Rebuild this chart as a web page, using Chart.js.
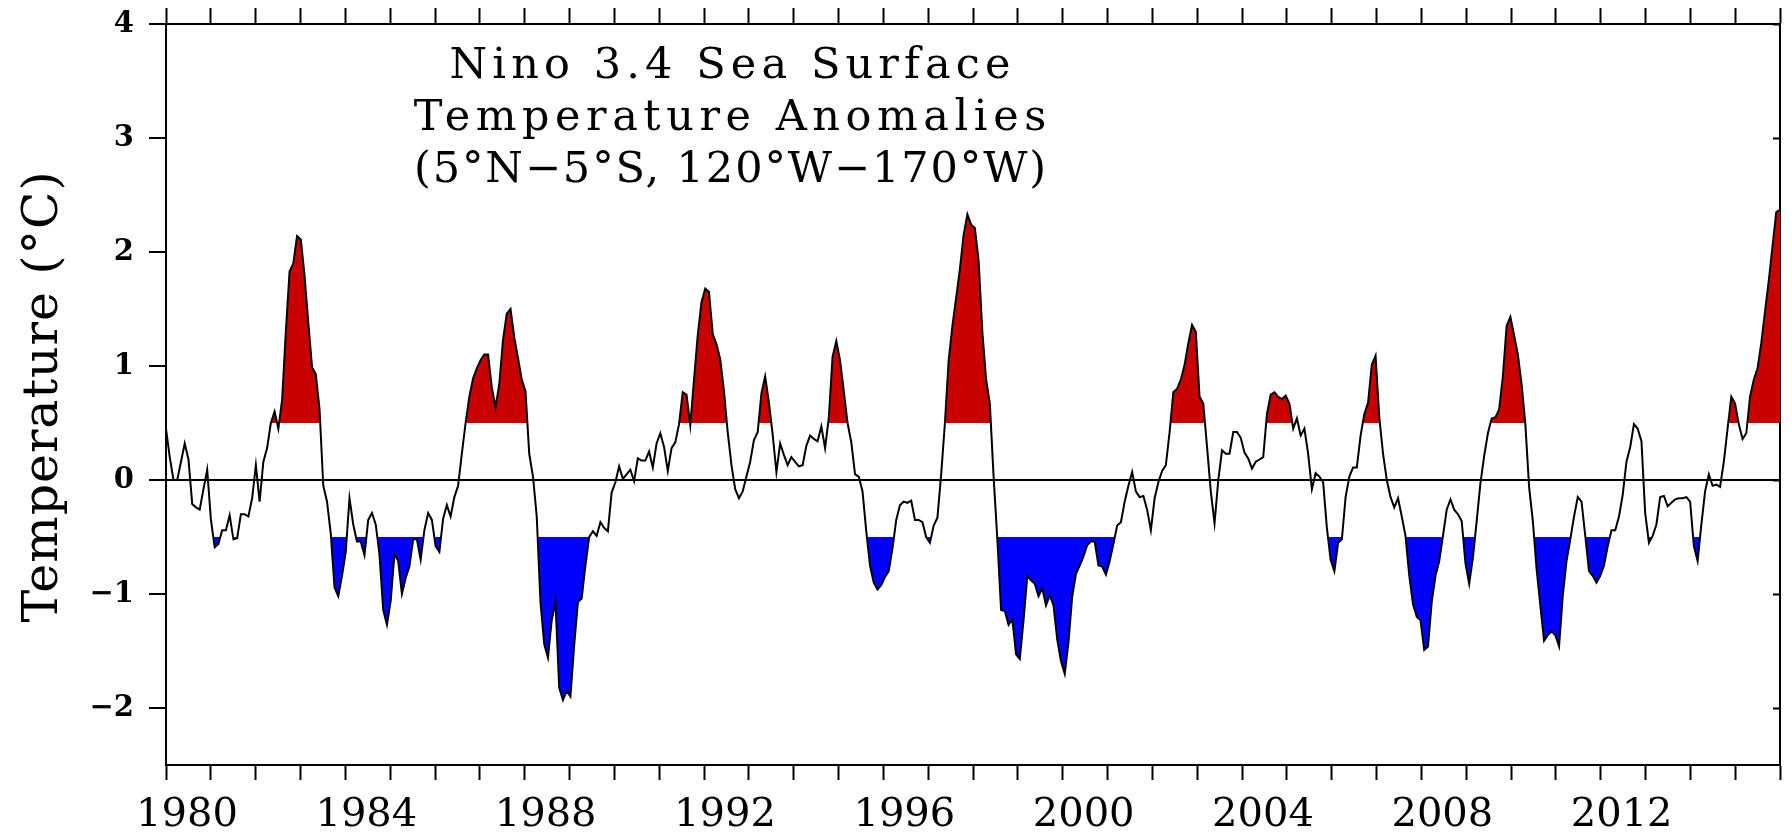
<!DOCTYPE html>
<html>
<head>
<meta charset="utf-8">
<title>Nino 3.4 Sea Surface Temperature Anomalies</title>
<script src="https://cdn.jsdelivr.net/npm/chart.js@4.4.1/dist/chart.umd.min.js"></script>
<style>
  html, body { margin: 0; padding: 0; background: #ffffff; }
  #wrap { width: 1792px; height: 835px; position: relative; }
  canvas { display: block; }
</style>
</head>
<body>
<div id="wrap"><canvas id="chart" width="1792" height="835"></canvas></div>
<script>
// ---------------- data (monthly anomalies, °C) ----------------
const startYear = 1980;
const endYear = 2016;

const anom1980s = [
   0.45,  0.20,  0.00,  0.00,  0.16,  0.32,  0.18, -0.21, -0.24, -0.26, -0.08,  0.09,
  -0.35, -0.59, -0.56, -0.44, -0.44, -0.31, -0.52, -0.51, -0.30, -0.30, -0.32, -0.16,
   0.13, -0.19,  0.16,  0.28,  0.50,  0.60,  0.45,  0.70,  1.30,  1.83,  1.90,  2.14,
   2.11,  1.79,  1.38,  0.99,  0.93,  0.62, -0.05, -0.19, -0.47, -0.94, -1.02, -0.84,
  -0.63, -0.16, -0.39, -0.54, -0.54, -0.66, -0.35, -0.29, -0.39, -0.65, -1.14, -1.27,
  -1.06, -0.65, -0.71, -1.00, -0.86, -0.76, -0.52, -0.52, -0.70, -0.44, -0.29, -0.35,
  -0.58, -0.63, -0.34, -0.22, -0.32, -0.15, -0.05,  0.23,  0.50,  0.73,  0.89,  0.98,
   1.05,  1.10,  1.10,  0.81,  0.64,  0.84,  1.23,  1.46,  1.50,  1.25,  1.07,  0.88,
   0.78,  0.23,  0.03, -0.32, -1.07, -1.44, -1.56, -1.23, -1.07, -1.82, -1.93, -1.85,
  -1.90, -1.45, -1.07, -1.04, -0.75, -0.50, -0.45, -0.49, -0.37, -0.42, -0.45, -0.11
];

const anom1990s = [
  -0.02,  0.12,  0.01,  0.05,  0.09, -0.01,  0.19,  0.17,  0.17,  0.25,  0.11,  0.32,
   0.41,  0.29,  0.08,  0.28,  0.33,  0.49,  0.77,  0.75,  0.48,  0.88,  1.27,  1.56,
   1.68,  1.65,  1.28,  1.19,  1.06,  0.78,  0.42,  0.13, -0.08, -0.16, -0.10,  0.03,
   0.16,  0.35,  0.42,  0.76,  0.91,  0.68,  0.40,  0.07,  0.32,  0.22,  0.13,  0.20,
   0.16,  0.12,  0.13,  0.30,  0.39,  0.36,  0.34,  0.47,  0.28,  0.55,  1.08,  1.22,
   1.05,  0.78,  0.50,  0.33,  0.05,  0.03, -0.10, -0.45, -0.75, -0.90, -0.96, -0.92,
  -0.85, -0.80, -0.60, -0.35, -0.22, -0.19, -0.20, -0.18, -0.35, -0.35, -0.37, -0.50,
  -0.55, -0.40, -0.33,  0.05,  0.50,  1.05,  1.35,  1.60,  1.85,  2.15,  2.33,  2.24,
   2.21,  1.92,  1.30,  0.88,  0.67,  0.03, -0.52, -1.14, -1.15, -1.27, -1.22, -1.53,
  -1.57, -1.23, -0.84, -0.88, -0.91, -1.02, -0.95, -1.10, -1.01, -1.10, -1.40, -1.59
];

const anom2000s = [
  -1.70, -1.42, -1.02, -0.82, -0.75, -0.67, -0.57, -0.54, -0.54, -0.75, -0.76, -0.83,
  -0.71, -0.56, -0.40, -0.37, -0.19, -0.05,  0.07, -0.10, -0.15, -0.14, -0.26, -0.44,
  -0.16, -0.02,  0.08,  0.13,  0.42,  0.77,  0.80,  0.88,  1.01,  1.20,  1.36,  1.30,
   0.73,  0.67,  0.29, -0.10, -0.38,  0.00,  0.26,  0.23,  0.23,  0.42,  0.42,  0.37,
   0.24,  0.19,  0.10,  0.16,  0.18,  0.20,  0.58,  0.75,  0.77,  0.73,  0.71,  0.74,
   0.67,  0.45,  0.54,  0.39,  0.45,  0.23, -0.08,  0.06,  0.03, -0.02, -0.42, -0.70,
  -0.80, -0.55, -0.52, -0.15,  0.03,  0.11,  0.11,  0.39,  0.58,  0.68,  1.01,  1.09,
   0.55,  0.23,  0.00, -0.15, -0.24, -0.16, -0.32, -0.49, -0.84, -1.09, -1.20, -1.23,
  -1.49, -1.46, -1.07, -0.84, -0.71, -0.49, -0.26, -0.17, -0.26, -0.30, -0.36, -0.73,
  -0.91, -0.68, -0.36, -0.03,  0.21,  0.41,  0.54,  0.55,  0.62,  0.91,  1.35,  1.43
];

const anom2010s = [
   1.27,  1.10,  0.84,  0.49, -0.06, -0.36, -0.78, -1.10, -1.41, -1.36, -1.33, -1.36,
  -1.46, -1.01, -0.71, -0.52, -0.32, -0.15, -0.19, -0.49, -0.80, -0.84, -0.90, -0.84,
  -0.75, -0.58, -0.44, -0.44, -0.32, -0.13,  0.16,  0.29,  0.49,  0.45,  0.34, -0.29,
  -0.55, -0.49, -0.39, -0.15, -0.14, -0.23, -0.20, -0.17, -0.16, -0.16, -0.15, -0.19,
  -0.58, -0.71, -0.39, -0.10,  0.05, -0.05, -0.04, -0.06,  0.16,  0.45,  0.73,  0.67,
   0.49,  0.36,  0.41,  0.73,  0.88,  0.98,  1.20,  1.48,  1.75,  2.05,  2.35,  2.37
];

// tick values and labels
const yearTicks = [1980,1981,1982,1983,1984,1985,1986,1987,1988,1989,1990,1991,1992,1993,1994,1995,1996,1997,1998,
                   1999,2000,2001,2002,2003,2004,2005,2006,2007,2008,2009,2010,2011,2012,2013,2014,2015,2016];
const labelledYears = [1980, 1984, 1988, 1992, 1996, 2000, 2004, 2008, 2012];
const tempTicks = [-2, -1, 0, 1, 2, 3, 4];
const tempMin = -2.5, tempMax = 4;
const warmThreshold = 0.5;
const coolThreshold = -0.5;

const titleLines = ['Nino 3.4 Sea Surface', 'Temperature Anomalies', '(5\u00B0N\u22125\u00B0S, 120\u00B0W\u2212170\u00B0W)'];
const yAxisTitle = 'Temperature (\u00B0C)';

// ---------------- build ----------------
const anomalies = [].concat(anom1980s, anom1990s, anom2000s, anom2010s);
const months = anomalies.map((_, i) => (startYear + Math.floor(i / 12)) + '-' + String(i % 12 + 1).padStart(2, '0'));

const SERIF = "'DejaVu Serif', 'Liberation Serif', serif";
const RED = 'rgb(200,0,0)';
const BLUE = 'rgb(0,0,255)';
const NONE = 'rgba(0,0,0,0)';

function fitSpaced(ctx, text, targetWidth) {
  ctx.letterSpacing = '0px';
  const w = ctx.measureText(text).width;
  const sp = Math.max(0, (targetWidth - w) / text.length);
  ctx.letterSpacing = sp.toFixed(2) + 'px';
  return sp;
}

const textPlugin = {
  id: 'ninoTexts',
  afterDraw(chart) {
    const ctx = chart.ctx;
    ctx.save();
    ctx.fillStyle = '#000';
    // in-plot title
    ctx.font = '43px ' + SERIF;
    ctx.textAlign = 'center';
    ctx.textBaseline = 'alphabetic';
    const titleWidths = [566, 638, 634];
    const baselines = [78, 130, 182];
    titleLines.forEach((line, k) => {
      const sp = fitSpaced(ctx, line, titleWidths[k]);
      ctx.fillText(line, 730 + sp / 2, baselines[k]);
    });
    // rotated y-axis title
    ctx.font = '49px ' + SERIF;
    const sp = fitSpaced(ctx, yAxisTitle, 452);
    ctx.translate(57, 397);
    ctx.rotate(-Math.PI / 2);
    ctx.fillText(yAxisTitle, sp / 2, 0);
    ctx.restore();
  }
};

const axisBorder = { display: true, color: '#000', width: 2 };
const yearTickBuilder = s => { s.ticks = yearTicks.map(v => ({ value: v })); };
const tempTickBuilder = s => { s.ticks = tempTicks.map(v => ({ value: v })); };
const noOverflow = s => { s.paddingTop = 0; s.paddingBottom = 0; s.paddingLeft = 0; s.paddingRight = 0; };

new Chart(document.getElementById('chart'), {
  type: 'line',
  data: {
    labels: months,
    datasets: [
      {
        label: 'Nino 3.4 anomaly',
        data: anomalies,
        borderColor: '#000',
        borderWidth: 2,
        pointRadius: 0,
        tension: 0,
        fill: false,
        xAxisID: 'x', yAxisID: 'y'
      },
      {
        label: 'warm',
        data: anomalies,
        borderWidth: 0,
        borderColor: NONE,
        pointRadius: 0,
        tension: 0,
        fill: { target: { value: warmThreshold }, above: RED, below: NONE },
        xAxisID: 'x', yAxisID: 'y'
      },
      {
        label: 'cool',
        data: anomalies,
        borderWidth: 0,
        borderColor: NONE,
        pointRadius: 0,
        tension: 0,
        fill: { target: { value: coolThreshold }, above: NONE, below: BLUE },
        xAxisID: 'x', yAxisID: 'y'
      }
    ]
  },
  options: {
    responsive: false,
    animation: false,
    devicePixelRatio: 1,
    layout: { padding: 0 },
    plugins: {
      legend: { display: false },
      tooltip: { enabled: false },
      title: { display: false }
    },
    scales: {
      x: { type: 'category', display: false, offset: false },
      xYears: {
        type: 'linear', position: 'bottom', min: startYear, max: endYear,
        afterBuildTicks: yearTickBuilder,
        afterFit: s => { s.height = 70; noOverflow(s); },
        border: axisBorder,
        grid: { drawOnChartArea: false, drawTicks: true, tickLength: 15, tickColor: '#000', tickWidth: 2 },
        ticks: {
          autoSkip: false, maxRotation: 0, minRotation: 0, padding: 12, labelOffset: 21,
          color: '#000', font: { family: SERIF, size: 40 },
          callback: v => labelledYears.includes(v) ? String(v) : ''
        }
      },
      xTop: {
        type: 'linear', position: 'top', min: startYear, max: endYear,
        afterBuildTicks: yearTickBuilder,
        afterFit: s => { s.height = 24; noOverflow(s); },
        border: axisBorder,
        grid: { drawOnChartArea: false, drawTicks: true, tickLength: 16, tickColor: '#000', tickWidth: 2 },
        ticks: { display: false }
      },
      y: {
        type: 'linear', position: 'left', min: tempMin, max: tempMax,
        afterBuildTicks: tempTickBuilder,
        afterFit: s => { s.width = 166; noOverflow(s); },
        border: axisBorder,
        grid: {
          drawOnChartArea: true, drawTicks: true, tickLength: 17, tickColor: '#000', tickWidth: 2,
          lineWidth: 2,
          color: c => (c.tick && c.tick.value === 0) ? '#000' : NONE
        },
        ticks: {
          padding: 15, color: '#000', font: { family: SERIF, size: 29, weight: 'bold' },
          callback: v => v < 0 ? '\u2212' + Math.abs(v) : String(v)
        }
      },
      yRight: {
        type: 'linear', position: 'right', min: tempMin, max: tempMax,
        afterBuildTicks: tempTickBuilder,
        afterFit: s => { s.width = 12; noOverflow(s); },
        border: axisBorder,
        grid: { drawOnChartArea: false, drawTicks: true, tickLength: -7, tickColor: '#000', tickWidth: 2 },
        ticks: { display: false }
      }
    }
  },
  plugins: [textPlugin]
});
</script>
</body>
</html>
